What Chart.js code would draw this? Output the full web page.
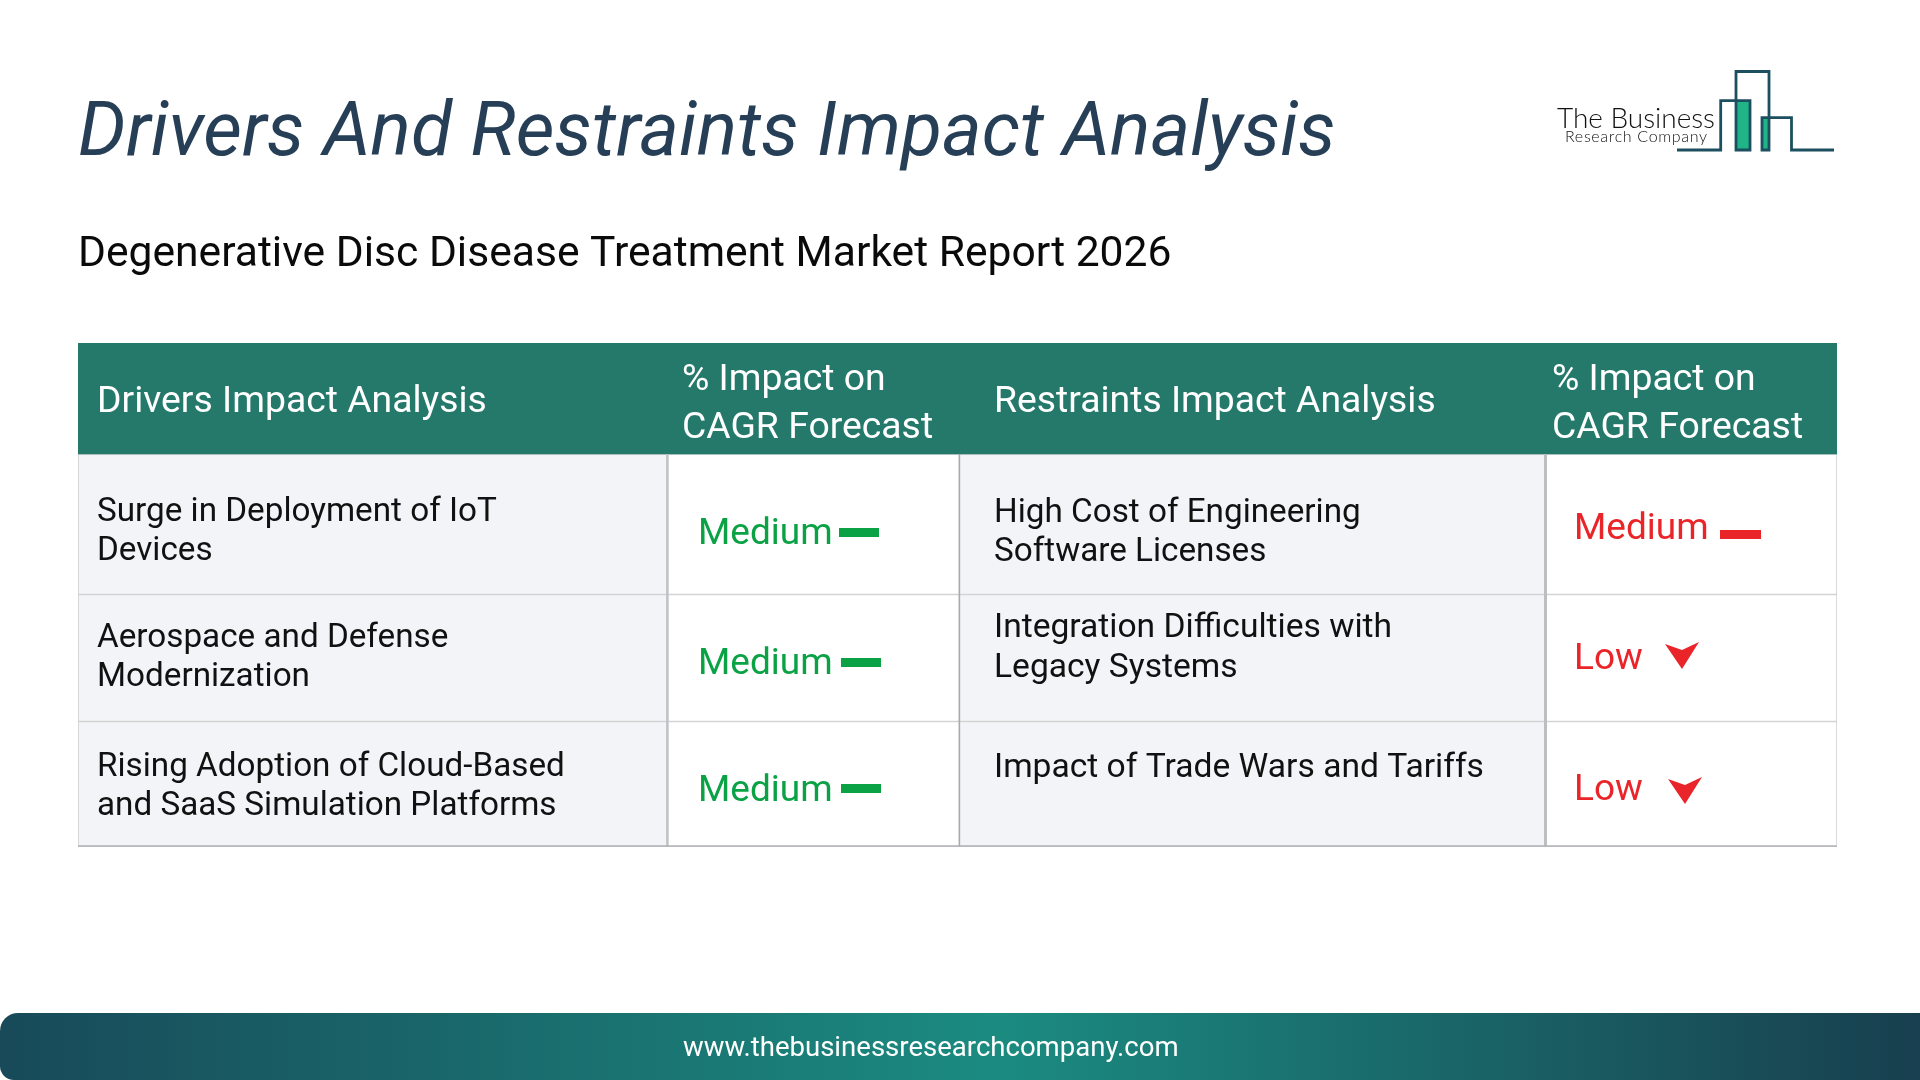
<!DOCTYPE html>
<html lang="en">

<head>
    <meta charset="UTF-8" />
    <title>Drivers And Restraints Impact Analysis</title>
    <script src="https://cdn.jsdelivr.net/npm/chart.js"></script>
    <style>
        html, body { margin: 0; padding: 0; background: #fff; width: 1920px; height: 1080px; overflow: hidden; }
        #grafico { position: absolute; left: 0; top: 0; }
        #logo { position: absolute; left: 1500px; top: 50px; }
        #rodape {
            position: absolute; left: 0; top: 1013px; width: 1920px; height: 67px;
            border-radius: 18px 0 0 14px;
            background: linear-gradient(90deg, #184a59 0%, #1b8b80 52%, #183f4f 100%);
            color: #fff; font: 27.55px Roboto, sans-serif; line-height: 68px;
        }
        #rodape span { position: absolute; left: 683px; }
    </style>
</head>

<body>
    <canvas id="grafico" width="1920" height="1080"></canvas>

    <svg id="logo" width="400" height="120" viewBox="1500 50 400 120">
        <rect x="1737" y="102" width="13" height="47" fill="#1fb587" />
        <rect x="1763" y="119" width="6" height="30" fill="#1fb587" />
        <path d="M1677 150H1720.7V100.7H1750V150H1736V71.5H1769V150H1762V117.7H1791.5V150H1834" fill="none" stroke="#1c4f5f" stroke-width="2.8" />
        <text x="1557" y="128" font-family="Lato" font-weight="300" font-size="28" textLength="158" fill="#111">The Business</text>
        <text x="1565" y="142" font-family="Lato" font-weight="300" font-size="16" textLength="142" fill="#111">Research Company</text>
    </svg>

    <div id="rodape"><span>www.thebusinessresearchcompany.com</span></div>

    <script>
        var titulo = "Drivers And Restraints Impact Analysis";
        var subtitulo = "Degenerative Disc Disease Treatment Market Report 2026";

        var headerDrivers = ["Drivers Impact Analysis"];
        var headerImpact = ["% Impact on", "CAGR Forecast"];
        var headerRestraints = ["Restraints Impact Analysis"];

        var drivers = [
            ["Surge in Deployment of IoT", "Devices"],
            ["Aerospace and Defense", "Modernization"],
            ["Rising Adoption of Cloud-Based", "and SaaS Simulation Platforms"]
        ];
        var driverImpact = ["Medium", "Medium", "Medium"];

        var restraints = [
            ["High Cost of Engineering", "Software Licenses"],
            ["Integration Difficulties with", "Legacy Systems"],
            ["Impact of Trade Wars and Tariffs"]
        ];
        var restraintImpact = ["Medium", "Low", "Low"];

        // table grid, in pixels from the top left corner of the table
        var colEdges = [0, 589.4, 881.4, 1467.5, 1759];
        var rowEdges = [0, 111, 251.5, 378.5, 504];

        // where things sit inside the cells, not quite the same from row to row in the original
        var textX = [19, 604, 916, 1474];
        var impactX = [620, 1496];
        var headerY = [60, 37.5, 85.5];
        var driverY = [169.5, 295.5, 424.5];
        var restraintY = [170.5, 286, 426];
        var restraintFont = [33.25, 33.6, 33.6];
        var driverImpactY = [192, 322, 449];
        var restraintImpactY = [187, 316.5, 447.5];
        var driverMarkX = [781, 783, 783];
        var driverMarkY = [189.5, 319.5, 445.5];
        var restraintMarkX = [1662.5, 1604, 1607];
        var restraintMarkY = [191.6, 312.5, 447.5];

        var verde = "#0aa245";
        var vermelho = "#e9252a";
        var linhaGrade = "#c8cacc";

        function marcaTraco(cor, largura) {
            var c = document.createElement("canvas");
            c.width = largura;
            c.height = 9;
            var ctx = c.getContext("2d");
            ctx.fillStyle = cor;
            ctx.fillRect(0, 0, largura, 9);
            return c;
        }

        function marcaSeta(cor) {
            var c = document.createElement("canvas");
            c.width = 34;
            c.height = 27;
            var ctx = c.getContext("2d");
            ctx.fillStyle = cor;
            ctx.beginPath();
            ctx.moveTo(0, 2);
            ctx.lineTo(17, 8);
            ctx.lineTo(34, 0);
            ctx.lineTo(17, 27);
            ctx.closePath();
            ctx.fill();
            return c;
        }

        var simbolos = {
            verde: { Medium: marcaTraco(verde, 40), Low: marcaSeta(verde) },
            vermelho: { Medium: marcaTraco(vermelho, 41), Low: marcaSeta(vermelho) }
        };

        function linhaDaTabela(indice) {
            var topo = rowEdges[indice];
            var base = rowEdges[indice + 1];
            var celulas = [];
            for (var i = 0; i < 4; i++) {
                celulas.push({ x: [colEdges[i], colEdges[i + 1]], y: (topo + base) / 2 });
            }
            return {
                type: "bar",
                data: celulas,
                grouped: false,
                barThickness: base - topo,
                backgroundColor: ["#f2f4f7", "#ffffff", "#f2f4f7", "#ffffff"],
                borderColor: linhaGrade,
                borderWidth: 1,
                borderSkipped: false,
                order: 2
            };
        }

        function marcadores(xs, ys, niveis, cor) {
            return {
                type: "scatter",
                indexAxis: "x",
                data: niveis.map(function (nivel, i) { return { x: xs[i], y: ys[i] }; }),
                pointStyle: niveis.map(function (nivel) { return simbolos[cor][nivel]; }),
                pointRadius: 10,
                order: 1
            };
        }

        // the cell texts go through the scales too, so they stay with the table
        var textosTabela = {
            id: "textosTabela",
            afterDatasetsDraw: function (chart) {
                var ctx = chart.ctx;
                var x = chart.scales.x;
                var y = chart.scales.y;
                var passo = 39.2;

                function risco(x0, y0, x1, y1, cor, largura) {
                    ctx.strokeStyle = cor;
                    ctx.lineWidth = largura;
                    ctx.beginPath();
                    ctx.moveTo(x.getPixelForValue(x0), y.getPixelForValue(y0));
                    ctx.lineTo(x.getPixelForValue(x1), y.getPixelForValue(y1));
                    ctx.stroke();
                }

                function escreve(linhas, px, py, fonte, cor, entre) {
                    ctx.font = fonte;
                    ctx.fillStyle = cor;
                    linhas.forEach(function (linha, i) {
                        ctx.fillText(linha, x.getPixelForValue(px), y.getPixelForValue(py + i * entre));
                    });
                }

                ctx.save();

                // the column rules are heavier than the row rules
                risco(colEdges[1], rowEdges[1], colEdges[1], rowEdges[4], "#c0c2c5", 2.5);
                risco(colEdges[2], rowEdges[1], colEdges[2], rowEdges[4], "#a9abae", 1.5);
                risco(colEdges[3], rowEdges[1], colEdges[3], rowEdges[4], "#bcbec1", 3);
                risco(colEdges[0], rowEdges[4] - 1, colEdges[4], rowEdges[4] - 1, "#b0b2b4", 1.5);

                ctx.textBaseline = "middle";
                ctx.textAlign = "left";

                var fonteHeader = "37.35px Roboto";
                var fonteCorpo = "33.25px Roboto";
                var fonteImpacto = "37px Roboto";

                escreve(headerDrivers, textX[0], headerY[0], fonteHeader, "#fff", 0);
                escreve(headerImpact, textX[1], headerY[1], fonteHeader, "#fff", 48);
                escreve(headerRestraints, textX[2], headerY[0], fonteHeader, "#fff", 0);
                escreve(headerImpact, textX[3], headerY[1], fonteHeader, "#fff", 48);

                for (var i = 0; i < 3; i++) {
                    escreve(drivers[i], textX[0], driverY[i], fonteCorpo, "#111", passo);
                    escreve(restraints[i], textX[2], restraintY[i], restraintFont[i] + "px Roboto", "#111", passo);
                    escreve([driverImpact[i]], impactX[0], driverImpactY[i], fonteImpacto, verde, 0);
                    escreve([restraintImpact[i]], impactX[1], restraintImpactY[i], fonteImpacto, vermelho, 0);
                }
                ctx.restore();
            }
        };

        var cabecalho = {
            type: "bar",
            data: [{ x: [colEdges[0], colEdges[4]], y: (rowEdges[0] + rowEdges[1]) / 2 }],
            grouped: false,
            barThickness: rowEdges[1] - rowEdges[0],
            backgroundColor: "#25796b",
            borderWidth: 0,
            order: 2
        };

        new Chart(document.getElementById("grafico"), {
            type: "bar",
            data: {
                datasets: [
                    marcadores(driverMarkX, driverMarkY, driverImpact, "verde"),
                    marcadores(restraintMarkX, restraintMarkY, restraintImpact, "vermelho"),
                    cabecalho,
                    linhaDaTabela(1),
                    linhaDaTabela(2),
                    linhaDaTabela(3)
                ]
            },
            plugins: [textosTabela],
            options: {
                indexAxis: "y",
                responsive: false,
                animation: false,
                devicePixelRatio: 1,
                layout: { padding: { left: 78, right: 83, top: 0, bottom: 233 } },
                scales: {
                    x: { type: "linear", display: false, offset: false, min: 0, max: colEdges[4] },
                    y: { type: "linear", display: false, offset: false, reverse: true, min: 0, max: rowEdges[4] }
                },
                plugins: {
                    legend: { display: false },
                    tooltip: { enabled: false },
                    title: {
                        display: true,
                        text: titulo,
                        align: "start",
                        color: "#263f57",
                        font: { family: "Roboto", style: "italic", weight: "normal", size: 75.3, lineHeight: 1.2 },
                        padding: { top: 90.8, bottom: 23.6 }
                    },
                    subtitle: {
                        display: true,
                        text: subtitulo,
                        align: "start",
                        color: "#0a0a0a",
                        font: { family: "Roboto", weight: "normal", size: 42.6, lineHeight: 1.2 },
                        padding: { top: 24.6, bottom: 62.5 }
                    }
                }
            }
        });
    </script>
</body>

</html>
